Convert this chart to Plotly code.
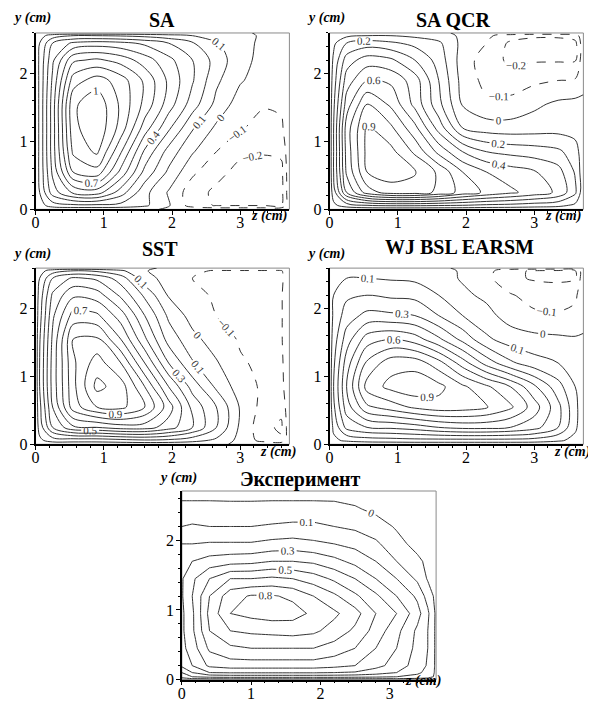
import plotly.graph_objects as go

# ---------------- data ----------------
X = [0, 0.06, 0.25, 0.55, 0.9, 1.25, 1.6, 1.95, 2.3, 2.65, 3.0, 3.35, 3.6, 3.72]
Y = [0, 0.06, 0.25, 0.55, 0.85, 1.2, 1.55, 1.9, 2.2, 2.45, 2.56, 2.6]

SA = [
    [0.03, 0.03, 0.03, 0.03, 0.03, 0.03, 0.03, -0.02, -0.03, -0.03, -0.03, -0.03, -0.03, -0.03],
    [0.03, 0.06, 0.15, 0.18, 0.18, 0.17, 0.12, 0.01, -0.15, -0.21, -0.21, -0.21, -0.21, -0.03],
    [0.03, 0.10, 0.35, 0.52, 0.55, 0.35, 0.13, -0.01, -0.16, -0.22, -0.25, -0.26, -0.24, -0.03],
    [0.03, 0.12, 0.42, 0.80, 0.86, 0.57, 0.27, 0.08, -0.08, -0.17, -0.23, -0.25, -0.23, -0.03],
    [0.03, 0.12, 0.45, 0.92, 1.02, 0.71, 0.38, 0.16, 0.01, -0.10, -0.18, -0.19, -0.18, -0.03],
    [0.03, 0.12, 0.45, 0.97, 1.08, 0.86, 0.55, 0.32, 0.11, -0.02, -0.09, -0.14, -0.12, -0.03],
    [0.03, 0.12, 0.45, 0.98, 1.07, 0.88, 0.67, 0.45, 0.25, 0.07, -0.05, -0.09, -0.08, -0.03],
    [0.03, 0.12, 0.42, 0.85, 0.95, 0.85, 0.68, 0.48, 0.31, 0.12, 0.01, -0.05, -0.06, -0.03],
    [0.03, 0.12, 0.38, 0.68, 0.72, 0.66, 0.55, 0.43, 0.30, 0.16, 0.03, -0.03, -0.04, -0.03],
    [0.03, 0.10, 0.30, 0.42, 0.45, 0.43, 0.38, 0.30, 0.21, 0.11, 0.03, -0.02, -0.03, -0.03],
    [0.03, 0.06, 0.15, 0.20, 0.20, 0.19, 0.17, 0.14, 0.10, 0.06, 0.02, -0.01, -0.02, -0.02],
    [0.02, 0.02, 0.02, 0.02, 0.02, 0.02, 0.02, 0.02, 0.02, 0.02, 0.02, -0.02, -0.02, -0.02],
]

SA_QCR = [
    [0.03, 0.03, 0.03, 0.03, 0.03, 0.03, 0.03, 0.03, 0.03, 0.03, 0.03, 0.03, 0.03, 0.03],
    [0.03, 0.08, 0.15, 0.20, 0.22, 0.22, 0.21, 0.20, 0.18, 0.17, 0.15, 0.13, 0.08, 0.03],
    [0.03, 0.15, 0.50, 0.75, 0.85, 0.85, 0.78, 0.66, 0.58, 0.52, 0.46, 0.38, 0.22, 0.03],
    [0.03, 0.20, 0.62, 0.90, 0.95, 0.91, 0.78, 0.60, 0.50, 0.45, 0.41, 0.34, 0.19, 0.03],
    [0.03, 0.20, 0.64, 0.93, 0.93, 0.78, 0.57, 0.40, 0.30, 0.27, 0.25, 0.22, 0.15, 0.03],
    [0.03, 0.20, 0.65, 0.92, 0.82, 0.63, 0.36, 0.10, 0.05, 0.04, 0.05, 0.06, 0.05, 0.03],
    [0.03, 0.18, 0.55, 0.80, 0.68, 0.47, 0.23, -0.01, -0.08, -0.07, -0.02, 0.02, 0.03, 0.02],
    [0.03, 0.15, 0.45, 0.60, 0.58, 0.45, 0.20, -0.04, -0.13, -0.15, -0.12, -0.10, -0.09, -0.03],
    [0.03, 0.12, 0.35, 0.45, 0.42, 0.30, 0.16, -0.05, -0.15, -0.22, -0.21, -0.21, -0.21, -0.03],
    [0.03, 0.08, 0.20, 0.25, 0.22, 0.17, 0.12, -0.03, -0.10, -0.22, -0.25, -0.25, -0.23, -0.03],
    [0.03, 0.04, 0.08, 0.10, 0.10, 0.08, 0.05, -0.02, -0.08, -0.15, -0.18, -0.18, -0.15, -0.03],
    [0.02, 0.02, 0.02, 0.02, 0.02, 0.02, 0.02, -0.02, -0.02, -0.02, -0.02, -0.02, -0.02, -0.02],
]

SST = [
    [0.03, 0.03, 0.03, 0.03, 0.03, 0.03, 0.03, 0.03, 0.03, 0.03, -0.03, -0.03, -0.03, -0.03],
    [0.03, 0.08, 0.15, 0.15, 0.15, 0.17, 0.19, 0.18, 0.14, 0.08, -0.03, -0.14, -0.18, -0.03],
    [0.03, 0.14, 0.40, 0.58, 0.60, 0.65, 0.65, 0.55, 0.40, 0.20, -0.02, -0.17, -0.22, -0.03],
    [0.03, 0.17, 0.50, 0.85, 1.00, 1.03, 0.90, 0.65, 0.37, 0.20, -0.01, -0.14, -0.17, -0.03],
    [0.03, 0.20, 0.54, 0.87, 1.13, 1.05, 0.80, 0.50, 0.26, 0.08, -0.05, -0.12, -0.13, -0.03],
    [0.03, 0.20, 0.54, 0.88, 1.05, 0.90, 0.60, 0.30, 0.11, 0.01, -0.09, -0.12, -0.12, -0.03],
    [0.03, 0.19, 0.52, 0.90, 0.92, 0.70, 0.42, 0.16, 0.03, -0.05, -0.11, -0.11, -0.11, -0.03],
    [0.03, 0.16, 0.48, 0.74, 0.72, 0.55, 0.30, 0.08, -0.04, -0.10, -0.11, -0.11, -0.11, -0.03],
    [0.03, 0.14, 0.42, 0.58, 0.55, 0.38, 0.18, -0.01, -0.08, -0.11, -0.11, -0.11, -0.11, -0.03],
    [0.03, 0.10, 0.30, 0.42, 0.38, 0.25, 0.04, -0.04, -0.10, -0.12, -0.12, -0.12, -0.12, -0.03],
    [0.03, 0.06, 0.15, 0.20, 0.18, 0.12, 0.005, -0.03, -0.08, -0.11, -0.11, -0.11, -0.11, -0.03],
    [0.02, 0.02, 0.02, 0.02, 0.02, 0.02, 0.02, -0.02, -0.02, -0.02, -0.02, -0.02, -0.02, -0.02],
]

WJ = [
    [0.03, 0.03, 0.03, 0.03, 0.03, 0.03, 0.03, 0.03, 0.03, 0.03, 0.03, 0.03, 0.03, 0.03],
    [0.03, 0.08, 0.12, 0.15, 0.16, 0.17, 0.17, 0.17, 0.17, 0.17, 0.16, 0.12, 0.07, 0.03],
    [0.03, 0.12, 0.33, 0.40, 0.42, 0.45, 0.50, 0.53, 0.53, 0.50, 0.44, 0.30, 0.12, 0.03],
    [0.03, 0.18, 0.45, 0.68, 0.75, 0.82, 0.86, 0.85, 0.81, 0.72, 0.55, 0.33, 0.13, 0.03],
    [0.03, 0.20, 0.50, 0.84, 0.93, 0.97, 0.93, 0.82, 0.72, 0.60, 0.42, 0.24, 0.10, 0.03],
    [0.03, 0.18, 0.45, 0.72, 0.86, 0.86, 0.74, 0.55, 0.36, 0.22, 0.14, 0.10, 0.06, 0.03],
    [0.03, 0.15, 0.35, 0.55, 0.60, 0.55, 0.42, 0.27, 0.12, 0.05, 0.03, 0.02, 0.01, 0.01],
    [0.03, 0.12, 0.25, 0.33, 0.32, 0.30, 0.20, 0.10, 0.03, -0.04, -0.08, -0.09, -0.07, -0.03],
    [0.03, 0.10, 0.18, 0.20, 0.18, 0.17, 0.10, 0.02, -0.02, -0.09, -0.14, -0.14, -0.12, -0.03],
    [0.03, 0.07, 0.10, 0.10, 0.09, 0.08, 0.04, -0.01, -0.07, -0.18, -0.21, -0.22, -0.21, -0.03],
    [0.03, 0.05, 0.06, 0.06, 0.05, 0.05, 0.03, -0.01, -0.06, -0.18, -0.21, -0.22, -0.21, -0.03],
    [0.02, 0.02, 0.02, 0.02, 0.02, 0.02, 0.02, -0.02, -0.03, -0.03, -0.03, -0.03, -0.03, -0.03],
]

X_EXP = [0, 0.15, 0.4, 0.7, 1.0, 1.3, 1.6, 1.9, 2.2, 2.5, 2.8, 3.1, 3.4, 3.55, 3.67]
Y_EXP = [0, 0.04, 0.1, 0.2, 0.45, 0.7, 0.95, 1.2, 1.45, 1.7, 1.95, 2.2, 2.45, 2.6, 2.71]
EXP = [
    [-0.05, -0.05, -0.05, -0.05, -0.05, -0.05, -0.05, -0.05, -0.05, -0.05, -0.05, -0.05, -0.05, -0.05, -0.05],
    [0.03, 0.10, 0.13, 0.14, 0.14, 0.14, 0.14, 0.14, 0.14, 0.13, 0.12, 0.10, 0.07, 0.04, -0.02],
    [0.10, 0.20, 0.30, 0.31, 0.31, 0.31, 0.31, 0.31, 0.30, 0.29, 0.25, 0.20, 0.12, 0.07, -0.02],
    [0.22, 0.30, 0.42, 0.45, 0.45, 0.45, 0.45, 0.45, 0.43, 0.40, 0.33, 0.26, 0.15, 0.09, -0.02],
    [0.27, 0.35, 0.52, 0.58, 0.60, 0.60, 0.60, 0.60, 0.56, 0.50, 0.40, 0.30, 0.17, 0.10, -0.02],
    [0.28, 0.38, 0.60, 0.70, 0.72, 0.73, 0.74, 0.72, 0.66, 0.58, 0.46, 0.33, 0.18, 0.10, -0.02],
    [0.28, 0.38, 0.63, 0.80, 0.83, 0.85, 0.84, 0.78, 0.72, 0.64, 0.50, 0.40, 0.24, 0.12, -0.02],
    [0.29, 0.40, 0.60, 0.76, 0.81, 0.81, 0.78, 0.70, 0.62, 0.52, 0.42, 0.30, 0.18, 0.06, -0.03],
    [0.29, 0.38, 0.50, 0.60, 0.60, 0.62, 0.60, 0.55, 0.48, 0.40, 0.30, 0.20, 0.08, -0.01, -0.05],
    [0.28, 0.30, 0.34, 0.36, 0.37, 0.40, 0.40, 0.38, 0.33, 0.27, 0.20, 0.10, 0.02, -0.02, -0.05],
    [0.20, 0.20, 0.21, 0.21, 0.21, 0.23, 0.24, 0.22, 0.20, 0.17, 0.12, 0.03, -0.03, -0.04, -0.05],
    [0.10, 0.11, 0.10, 0.10, 0.10, 0.11, 0.12, 0.12, 0.10, 0.08, 0.04, -0.01, -0.03, -0.04, -0.05],
    [0.04, 0.04, 0.04, 0.03, 0.03, 0.04, 0.04, 0.04, 0.03, 0.01, -0.02, -0.03, -0.04, -0.05, -0.05],
    [-0.01, -0.01, -0.01, -0.01, -0.01, -0.01, -0.01, -0.01, -0.01, -0.02, -0.03, -0.04, -0.04, -0.05, -0.05],
    [-0.03, -0.03, -0.03, -0.03, -0.03, -0.03, -0.03, -0.03, -0.03, -0.03, -0.03, -0.03, -0.03, -0.03, -0.03],
]

TITLES = ["SA", "SA QCR", "SST", "WJ BSL EARSM", "Эксперимент"]

LEVELS_SA = [-0.2, -0.1, 0, 0.1, 0.2, 0.3, 0.4, 0.5, 0.6, 0.7, 0.8, 0.9, 1.0]
LABELS_SA = [-0.2, -0.1, 0, 0.1, 0.4, 0.7, 1.0]
LEVELS_QCR = [-0.2, -0.1, 0, 0.1, 0.2, 0.3, 0.4, 0.5, 0.6, 0.7, 0.8, 0.9]
LABELS_QCR = [-0.2, -0.1, 0, 0.2, 0.4, 0.6, 0.9]
LEVELS_SST = [-0.2, -0.1, 0, 0.1, 0.2, 0.3, 0.4, 0.5, 0.6, 0.7, 0.8, 0.9, 1.0, 1.1]
LABELS_SST = [-0.1, 0, 0.1, 0.3, 0.5, 0.7, 0.9, 1.1]
LEVELS_WJ = [-0.2, -0.1, 0, 0.1, 0.2, 0.3, 0.4, 0.5, 0.6, 0.7, 0.8, 0.9]
LABELS_WJ = [-0.1, 0, 0.1, 0.3, 0.6, 0.9]
LEVELS_EXP = [0, 0.1, 0.2, 0.3, 0.4, 0.5, 0.6, 0.7, 0.8]
LABELS_EXP = [0, 0.1, 0.3, 0.5, 0.8]

X_TICKS = [0, 1, 2, 3]
Y_TICKS = [0, 1, 2]

# ---------------- layout geometry ----------------
# the page body adds an 8px margin, so the figure is offset by OFF px
OFF = 8
W, H = 596 - OFF, 708 - OFF
SERIF = "Liberation Serif"
LINE = "#333333"

def px_x(v):
    return (v - OFF) / W

def px_y(v):
    return 1 - (v - OFF) / H

panels = [
    dict(z=SA, x=X, y=Y, levels=LEVELS_SA, labels=LABELS_SA,
         box=(31.7, 287.3, 33.3, 212.0), xr=3.72, yr=2.6, smooth=0.9,
         title_xy=(159, None), ylab_xy=(8, 18), zlab_xy=(248, 219)),
    dict(z=SA_QCR, x=X, y=Y, levels=LEVELS_QCR, labels=LABELS_QCR,
         box=(327.7, 583.3, 33.3, 212.0), xr=3.72, yr=2.6, smooth=0.9,
         title_xy=(452, None), ylab_xy=(304, 18), zlab_xy=(544, 219)),
    dict(z=SST, x=X, y=Y, levels=LEVELS_SST, labels=LABELS_SST,
         box=(31.7, 287.3, 271.5, 450.0), xr=3.72, yr=2.6, smooth=0.9,
         title_xy=(157, 252), ylab_xy=(8, 257), zlab_xy=(257, 458)),
    dict(z=WJ, x=X, y=Y, levels=LEVELS_WJ, labels=LABELS_WJ,
         box=(327.7, 583.3, 271.5, 450.0), xr=3.72, yr=2.6, smooth=0.9,
         title_xy=(459, 250), ylab_xy=(304, 257), zlab_xy=(553, 458)),
    dict(z=EXP, x=X_EXP, y=Y_EXP, levels=LEVELS_EXP, labels=LABELS_EXP,
         box=(179.0, 435.0, 497.3, 688.3), xr=3.67, yr=2.71, smooth=0,
         title_xy=(298, 486), ylab_xy=(155, 484), zlab_xy=(403, 690)),
]

fig = go.Figure()
layout = dict(
    width=W, height=H, margin=dict(l=0, r=0, t=0, b=0),
    paper_bgcolor="white", plot_bgcolor="white", showlegend=False,
    annotations=[], shapes=[],
)

for i, p in enumerate(panels, start=1):
    sfx = "" if i == 1 else str(i)
    xa, ya = "x" + sfx, "y" + sfx
    for lvl in p["levels"]:
        labelled = lvl in p["labels"]
        fmt = ".0f" if abs(lvl - round(lvl)) < 1e-9 else ".1f"
        fig.add_trace(go.Contour(
            x=p["x"], y=p["y"], z=p["z"],
            autocontour=False,
            contours=dict(start=lvl, end=lvl, size=1, coloring="lines",
                          showlabels=labelled, labelformat=fmt,
                          labelfont=dict(family=SERIF, size=11, color=LINE)),
            line=dict(width=1, dash="dash" if lvl < 0 else "solid",
                      smoothing=p["smooth"]),
            colorscale=[[0, LINE], [1, LINE]], showscale=False,
            hoverinfo="skip", xaxis=xa, yaxis=ya,
        ))
    x0, x1, y0, y1 = p["box"]
    axis_common = dict(
        ticks="outside", ticklen=4, tickwidth=1, tickcolor="black",
        showline=True, linecolor="black", linewidth=1.5,
        showgrid=False, zeroline=False, fixedrange=True,
        tickfont=dict(family=SERIF, size=16, color="black"),
        minor=dict(dtick=0.2, ticks="outside", ticklen=2, tickcolor="black",
                   showgrid=False),
    )
    layout["xaxis" + sfx] = dict(axis_common, domain=[px_x(x0), px_x(x1)],
                                 range=[0, p["xr"]], anchor=ya,
                                 tickmode="array", tickvals=X_TICKS,
                                 ticklabelstandoff=-6)
    layout["yaxis" + sfx] = dict(axis_common, domain=[px_y(y1), px_y(y0)],
                                 range=[0, p["yr"]], anchor=xa,
                                 tickmode="array", tickvals=Y_TICKS,
                                 ticklabelstandoff=-1)
    layout["shapes"].append(dict(
        type="rect", xref=xa + " domain", yref=ya + " domain",
        x0=0, x1=1, y0=0, y1=1, line=dict(color="#8a8a8a", width=1),
        layer="below"))
    tx, ty = p["title_xy"]
    if ty is None:
        # top-row titles: hang from the top edge of the figure
        tpos = dict(y=1.0, yanchor="top")
    else:
        tpos = dict(y=px_y(ty), yanchor="middle")
    layout["annotations"].append(dict(
        x=px_x(tx), xref="paper", yref="paper",
        text="<b>" + TITLES[i - 1] + "</b>", showarrow=False,
        xanchor="center", borderpad=0,
        font=dict(family=SERIF, size=20, color="black"), **tpos))
    lx, ly = p["ylab_xy"]
    layout["annotations"].append(dict(
        x=px_x(lx), y=px_y(ly), xref="paper", yref="paper",
        text="<b><i>y (cm)</i></b>", showarrow=False,
        xanchor="left", yanchor="middle", borderpad=0,
        font=dict(family=SERIF, size=14, color="black")))
    zx, zy = p["zlab_xy"]
    layout["annotations"].append(dict(
        x=px_x(zx), y=px_y(zy), xref="paper", yref="paper",
        text="<b><i>z (cm)</i></b>", showarrow=False,
        xanchor="left", yanchor="middle", borderpad=0,
        font=dict(family=SERIF, size=14, color="black")))

fig.update_layout(**layout)
fig.write_html("out.html")
